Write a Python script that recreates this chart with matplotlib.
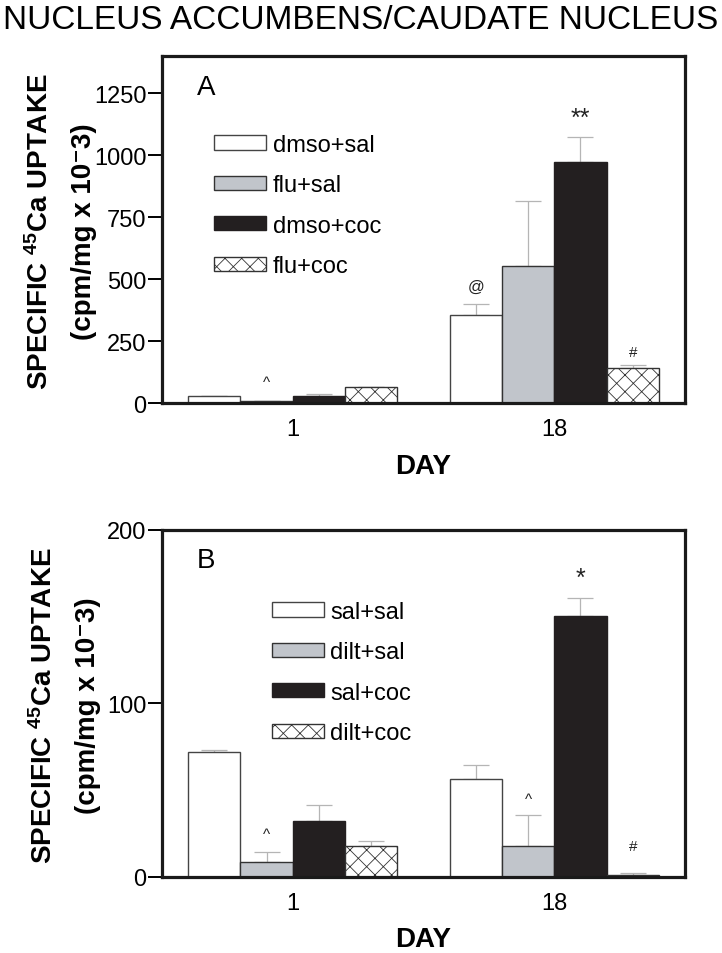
import numpy as np
import matplotlib
matplotlib.use('Agg')
import matplotlib.pyplot as plt

plt.rcParams['font.family'] = ['Liberation Sans', 'DejaVu Sans']
plt.rcParams['mathtext.fontset'] = 'custom'
plt.rcParams['mathtext.rm'] = 'Liberation Sans:bold'
plt.rcParams['mathtext.default'] = 'rm'
plt.rcParams['hatch.linewidth'] = 0.6

# data
days = ['1', '18']

labels_a = ['dmso+sal', 'flu+sal', 'dmso+coc', 'flu+coc']
vals_a = [[30, 354], [10, 551], [28, 971], [64, 141]]
errs_a = [[0, 47], [0, 263], [8, 103], [0, 12]]

labels_b = ['sal+sal', 'dilt+sal', 'sal+coc', 'dilt+coc']
vals_b = [[71.7, 56.3], [8.6, 17.5], [32.3, 150.4], [17.9, 1.0]]
errs_b = [[1.3, 8.1], [5.4, 18.1], [9.0, 10.0], [2.9, 1.0]]

# significance marks: (symbol, day index, group index, y)
marks_a = [('^', 0, 1, 85), ('@', 1, 0, 470), ('**', 1, 2, 1150), ('#', 1, 3, 205)]
marks_b = [('^', 0, 1, 24.6), ('*', 1, 2, 172), ('^', 1, 1, 44.8), ('#', 1, 3, 17.7)]

faces = ['white', '#c1c5cb', '#231f20', 'white']
edges = ['#444444', '#333333', '#231f20', '#333333']
hatches = [None, None, None, 'xx']
mark_sizes = {'^': 11, '@': 12, '**': 18, '*': 18, '#': 11}

fig = plt.figure(figsize=(7.22, 9.54), dpi=100)
fig.text(0.5, 0.979, 'NUCLEUS ACCUMBENS/CAUDATE NUCLEUS', ha='center', va='center',
         fontsize=24)

ax_a = fig.add_axes([0.2244, 0.5765, 0.7244, 0.3637])
ax_b = fig.add_axes([0.2244, 0.0800, 0.7244, 0.3637])

centers = np.array([2.5, 7.5])
offsets = [-1.5, -0.5, 0.5, 1.5]


def draw_panel(ax, labels, vals, errs, marks, ylim, yticks, letter, leg_anchor):
    for i in range(4):
        x = centers + offsets[i]
        ax.errorbar(x, vals[i], yerr=[np.zeros(2), errs[i]], fmt='none',
                    ecolor='#b5b5b5', elinewidth=0.9, capsize=9.4, capthick=0.9,
                    zorder=1)
        ax.bar(x, vals[i], width=1.0, color=faces[i], edgecolor=edges[i],
               linewidth=1.0, hatch=hatches[i], label=labels[i], zorder=2)
    for sym, d, g, y in marks:
        ax.text(centers[d] + offsets[g], y, sym, ha='center', va='center',
                fontsize=mark_sizes[sym], color='#222222')
    ax.set_xlim(0, 10)
    ax.set_ylim(*ylim)
    ax.set_yticks(yticks)
    ax.set_xticks(centers)
    ax.set_xticklabels(days)
    ax.tick_params(axis='x', length=0, pad=11, labelsize=17)
    ax.tick_params(axis='y', length=10, width=1.4, pad=1, labelsize=17)
    for s in ax.spines.values():
        s.set_linewidth(2.3)
        s.set_color('#1a1a1a')
    ax.set_xlabel('DAY', fontsize=20, fontweight='bold', labelpad=9)
    ax.text(0.067, 0.912, letter, transform=ax.transAxes, fontsize=20,
            ha='left', va='center')
    ax.legend(loc='upper left', bbox_to_anchor=leg_anchor, frameon=False,
              fontsize=17, handlelength=2.2, handleheight=0.55,
              labelspacing=0.78, handletextpad=0.28, borderpad=0,
              borderaxespad=0)


draw_panel(ax_a, labels_a, vals_a, errs_a, marks_a, (0, 1400),
           [0, 250, 500, 750, 1000, 1250], 'A', (0.0994, 0.776))
draw_panel(ax_b, labels_b, vals_b, errs_b, marks_b, (0, 200),
           [0, 100, 200], 'B', (0.210, 0.795))

# y axis titles (two lines each)
for x1, x2, yc in [(0.055, 0.117, 0.757), (0.061, 0.122, 0.260)]:
    fig.text(x1, yc, r'SPECIFIC $^{45}$Ca UPTAKE', rotation=90, ha='center',
             va='center', fontsize=20, fontweight='bold')
    fig.text(x2, yc, '(cpm/mg x 10\u207b3)', rotation=90, ha='center',
             va='center', fontsize=20, fontweight='bold')

fig.savefig('out.png', dpi=100)
